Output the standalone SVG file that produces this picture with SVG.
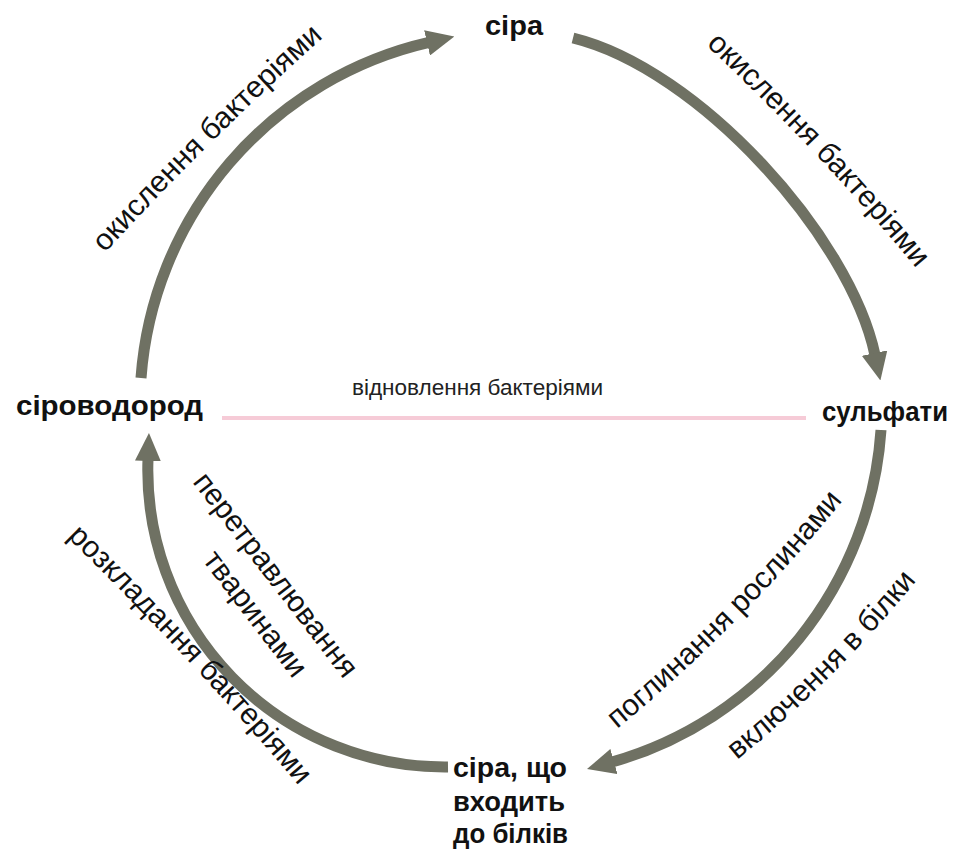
<svg xmlns="http://www.w3.org/2000/svg" width="954" height="852" viewBox="0 0 954 852">
<style>
.node{font-family:"Liberation Sans",Arial,sans-serif;font-weight:bold;font-size:27px;fill:#111}
.lbl{font-family:"Liberation Sans",Arial,sans-serif;font-size:30px;fill:#111}
.mid{font-family:"Liberation Sans",Arial,sans-serif;font-size:22px;fill:#222}
.arc{fill:none;stroke:#6f7163;stroke-width:11}
</style>
<defs>
<marker id="head" markerUnits="userSpaceOnUse" markerWidth="28" markerHeight="26" viewBox="0 0 28 26" refX="2" refY="13" orient="auto">
<path d="M0,0 L28,13 L0,26 Z" fill="#6f7163"/>
</marker>
<path id="pTL" d="M105,253 Q210,138 325,36"/>
<path id="pTR" d="M706,45 Q818,150 917,269"/>
<path id="pBR1" d="M617,729 Q743,625 848,494"/>
<path id="pBR2" d="M737,760 Q839,677 921,575"/>
<path id="pBL1" d="M67,537 Q196,663 305,793"/>
<path id="pBL2" d="M192,482 L345,681"/>
<path id="pBL3" d="M202,560 L296,683"/>
</defs>
<rect width="954" height="852" fill="#ffffff"/>
<g id="connectors">
<g id="e-sirovodorod-sira">
<path class="arc" d="M141,378 A372 372 0 0 1 429,42.4" marker-end="url(#head)"/>
<text class="lbl"><textPath href="#pTL">окислення бактеріями</textPath></text>
</g>
<g id="e-sira-sulfaty">
<path class="arc" d="M573,38 C699,69 850,237 875,355" marker-end="url(#head)"/>
<text class="lbl"><textPath href="#pTR">окислення бактеріями</textPath></text>
</g>
<g id="e-sulfaty-bilky">
<path class="arc" d="M881,430 A371 371 0 0 1 612,762" marker-end="url(#head)"/>
<text class="lbl"><textPath href="#pBR1">поглинання рослинами</textPath></text>
<text class="lbl"><textPath href="#pBR2">включення в білки</textPath></text>
</g>
<g id="e-bilky-sirovodorod">
<path class="arc" d="M448,767 A297 297 0 0 1 148,459" marker-end="url(#head)"/>
<text class="lbl"><textPath href="#pBL1">розкладання бактеріями</textPath></text>
<text class="lbl"><textPath href="#pBL2">перетравлювання</textPath></text>
<text class="lbl"><textPath href="#pBL3">тваринами</textPath></text>
</g>
<g id="e-sulfaty-sirovodorod">
<line x1="222" y1="418" x2="806" y2="418" stroke="#f6cbd7" stroke-width="4"/>
<text class="mid" x="352" y="395" textLength="251" lengthAdjust="spacingAndGlyphs">відновлення бактеріями</text>
</g>
</g>
<g id="n-sira"><text class="node" x="485" y="35" textLength="58" lengthAdjust="spacingAndGlyphs">сіра</text></g>
<g id="n-sulfaty"><text class="node" x="822" y="421" textLength="126" lengthAdjust="spacingAndGlyphs">сульфати</text></g>
<g id="n-sirovodorod"><text class="node" x="16" y="415" textLength="187" lengthAdjust="spacingAndGlyphs">сіроводород</text></g>
<g id="n-bilky">
<text class="node" x="453" y="777" textLength="114" lengthAdjust="spacingAndGlyphs">сіра, що</text>
<text class="node" x="453" y="811" textLength="112" lengthAdjust="spacingAndGlyphs">входить</text>
<text class="node" x="453" y="843" textLength="115" lengthAdjust="spacingAndGlyphs">до білків</text>
</g>
</svg>
